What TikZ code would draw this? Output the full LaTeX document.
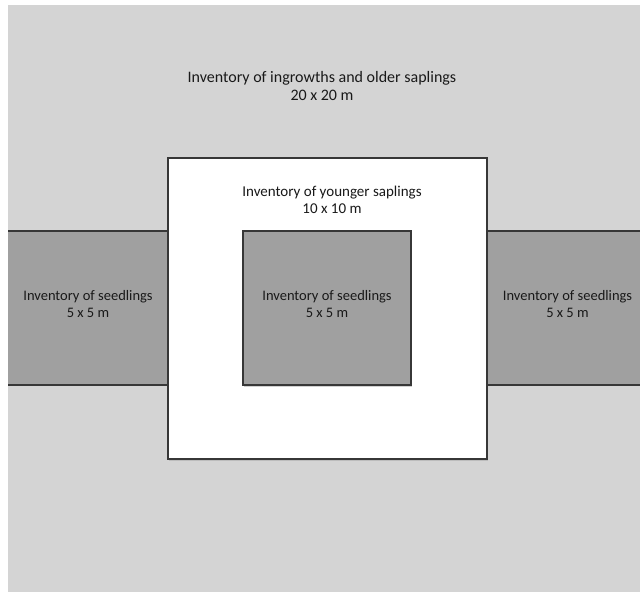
\documentclass[tikz,border=0pt]{standalone}
\usepackage{fontspec}
\setmainfont{Carlito}
\usetikzlibrary{positioning, shadows}
\definecolor{plotc}{RGB}{212,212,212}
\definecolor{seedc}{RGB}{160,160,160}
\definecolor{edgec}{RGB}{55,55,55}

\begin{document}
\begin{tikzpicture}[x=1pt, y=-1pt,
    quad/.style={draw=edgec, line width=1.2pt, inner sep=0pt, outer sep=0pt,
      drop shadow={shadow xshift=1pt, shadow yshift=-1.5pt, fill=black!35}},
    strip/.style={fill=seedc, inner sep=0pt, outer sep=0pt,
      minimum width=160pt, minimum height=154pt},
    lbl/.style={align=center, inner sep=0pt,
      font=\fontsize{14.5}{17}\selectfont, text=black!90}]
  \useasboundingbox (0,0) rectangle (640,592);
  \fill[white] (0,0) rectangle (640,592);
  \fill[plotc] (8,5) rectangle (640,592);
  % seedling strips on both sides
  \node[strip] (seedl) at (88,308) {};
  \node[strip, minimum width=153pt] (seedr) at (563.5,308) {};
  \draw[edgec, line width=1.2pt] (seedl.north west) -- (seedl.north east)
    (seedl.south west) -- (seedl.south east);
  \draw[edgec, line width=1.2pt] (seedr.north west) -- (seedr.north east)
    (seedr.south west) -- (seedr.south east);
  % 10 x 10 m and 5 x 5 m squares
  \node[quad, fill=white, minimum width=319pt, minimum height=301pt]
    (sapl) at (327.5,308.5) {};
  \node[quad, fill=seedc, minimum width=168pt, minimum height=154pt]
    (seedc) at (327,308) {};
  % labels
  \node[lbl, font=\fontsize{16}{18}\selectfont] (tplot) at (322,86)
    {Inventory of ingrowths and older saplings\\20 x 20 m};
  \node[lbl, font=\fontsize{15}{17.5}\selectfont] (tsapl) at (332,200)
    {Inventory of younger saplings\\10 x 10 m};
  \node[lbl] (tseedc) at (327,304.5) {Inventory of seedlings\\5 x 5 m};
  \node[lbl] (tseedl) at (88,304.5) {Inventory of seedlings\\5 x 5 m};
  \node[lbl] (tseedr) at (567.5,304.5) {Inventory of seedlings\\5 x 5 m};
\end{tikzpicture}
\end{document}
